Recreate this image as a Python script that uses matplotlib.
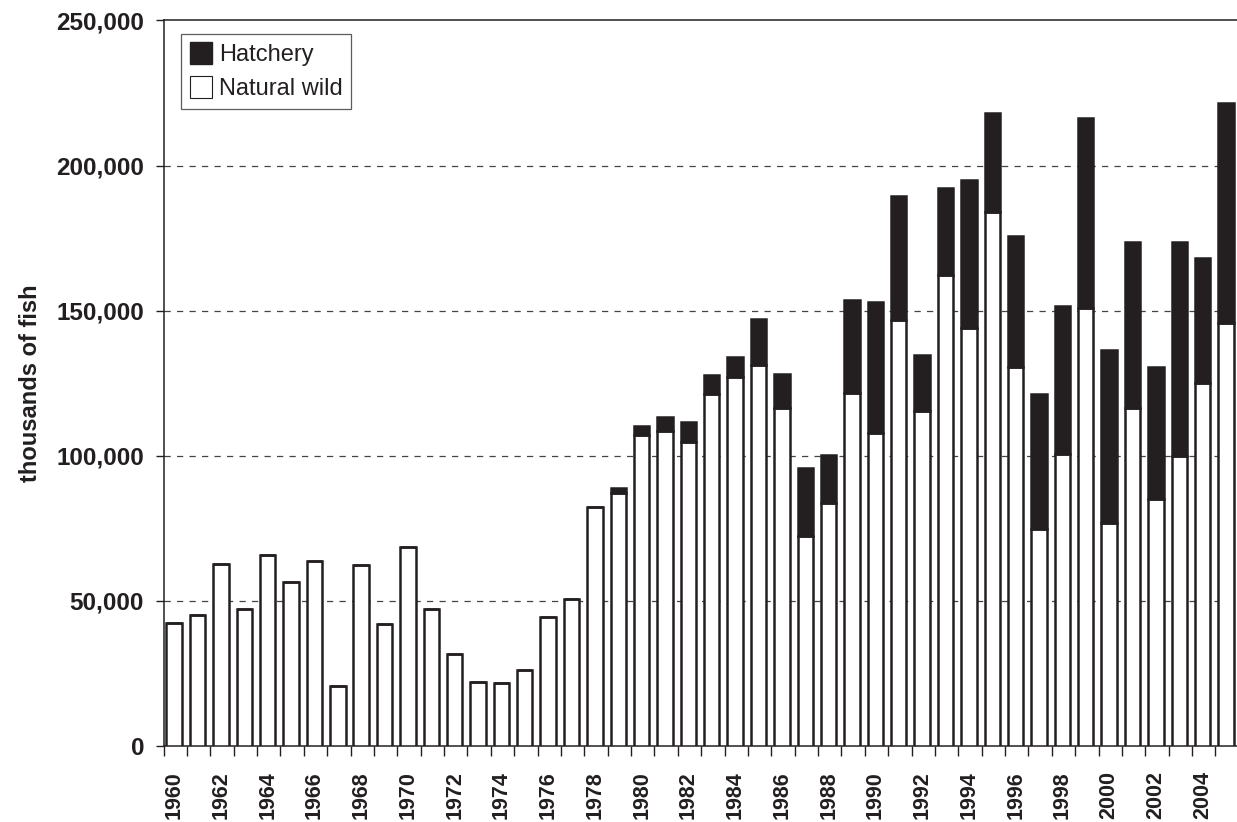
import numpy as np
import matplotlib
matplotlib.use("Agg")
import matplotlib.pyplot as plt
from matplotlib.patches import Patch

plt.rcParams["font.family"] = ["Liberation Sans", "DejaVu Sans"]

years = list(range(1960, 2006))

# values (fish counts, in thousands)
natural = [42500, 45000, 62800, 47300, 65800, 56400, 63900, 20800, 62200, 41900,
           68500, 47300, 31800, 22100, 21800, 26200, 44300, 50600, 82200, 87000,
           107200, 108700, 104800, 121300, 127100, 131400, 116500, 72200, 83600, 121600,
           107700, 146800, 115300, 162200, 143900, 183900, 130600, 74700, 100600, 150900,
           76900, 116300, 85200, 99900, 125100, 145800]
hatchery = [0, 0, 0, 0, 0, 0, 0, 0, 0, 0,
            0, 0, 0, 0, 0, 0, 0, 0, 0, 1900,
            3100, 4800, 7000, 6600, 6900, 15600, 11700, 23600, 16800, 32000,
            45300, 42600, 19500, 29900, 51000, 34200, 45000, 46700, 51100, 65600,
            59500, 57400, 45400, 73800, 42900, 75700]

ink = "#231f20"

fig = plt.figure(figsize=(12.37, 8.22), dpi=100)
ax = fig.add_axes([0.1322, 0.0925, 0.8678, 0.8826])

x = np.arange(len(years))
ax.bar(x, natural, width=0.66, color="white", edgecolor=ink, linewidth=1.8, zorder=3)
ax.bar(x, hatchery, width=0.66, bottom=natural, color=ink, edgecolor=ink,
       linewidth=1.8, zorder=3)

ax.set_xlim(-0.455, 45.47)
ax.set_ylim(0, 250000)

ax.set_yticks(np.arange(0, 250001, 50000))
ax.set_yticklabels([f"{v:,}" for v in range(0, 250001, 50000)])
ax.tick_params(axis="y", direction="out", length=6, width=1, pad=8,
               labelsize=17.5, colors=ink)
for lab in ax.get_yticklabels():
    lab.set_fontweight("bold")

ax.set_xticks(x[::2])
ax.set_xticklabels([str(y) for y in years[::2]], rotation=90, fontsize=15.5,
                   fontweight="bold", color=ink)
ax.tick_params(axis="x", which="major", length=0, pad=18)
ax.set_xticks(x - 0.455, minor=True)
ax.tick_params(axis="x", which="minor", direction="out", length=7, width=1, color=ink)

for v in [50000, 100000, 150000, 200000]:
    ax.axhline(v, color="#444444", linewidth=0.9, linestyle=(0, (5, 5)), zorder=1)

ax.spines["right"].set_visible(False)
for s in ["left", "bottom", "top"]:
    ax.spines[s].set_color(ink)
    ax.spines[s].set_linewidth(1.1)

ax.set_ylabel("thousands of fish", fontsize=17, fontweight="bold", color=ink,
              labelpad=12)
ax.yaxis.set_label_coords(-0.113, 0.5)

handles = [Patch(facecolor=ink, edgecolor=ink, label="Hatchery"),
           Patch(facecolor="white", edgecolor=ink, linewidth=0.8, label="Natural wild")]
leg = ax.legend(handles=handles, loc="upper left", bbox_to_anchor=(0.0165, 0.982),
                fontsize=17, frameon=True, fancybox=False, handlelength=0.95,
                handleheight=1.05, handletextpad=0.3, borderpad=0.35,
                labelspacing=0.45, borderaxespad=0)
leg.get_frame().set_edgecolor("#333333")
leg.get_frame().set_linewidth(0.9)
for t in leg.get_texts():
    t.set_color(ink)

fig.savefig("out.png", dpi=100)
